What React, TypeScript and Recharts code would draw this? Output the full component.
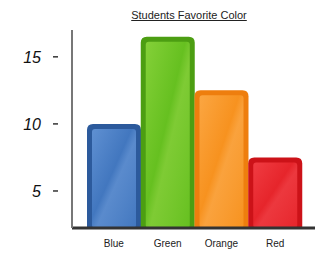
import { BarChart, Bar, XAxis, YAxis } from "recharts";

const categories = ["Blue", "Green", "Orange", "Red"];
const votes = [10, 16.5, 12.5, 7.5];
const yTicks = [5, 10, 15];

// edge, light, mid per bar
const EDGE = ["#2c5a9c", "#4c9e12", "#ee7e0e", "#cc1218"];
const LIGHT = ["#5f90d2", "#84d038", "#fba642", "#f03c42"];
const MID = ["#4277bf", "#66c020", "#f7921f", "#e6252b"];

const data = categories.map((name, i) => ({ name, votes: votes[i] }));

const FONT = "'Liberation Sans', Arial, sans-serif";

function GlossyBar(props: any) {
    const { x, y, width, height, index } = props;
    const r = 6;
    const outer = `M${x},${y + height} L${x},${y + r} Q${x},${y} ${x + r},${y} L${x + width - r},${y} Q${x + width},${y} ${x + width},${y + r} L${x + width},${y + height} Z`;
    const inset = 5;
    return (
        <g>
            <defs>
                <linearGradient id={`g${index}`} x1="0" y1="0" x2="1" y2="1">
                    <stop offset="0%" stopColor={LIGHT[index]} />
                    <stop offset="45%" stopColor={MID[index]} />
                    <stop offset="55%" stopColor={LIGHT[index]} stopOpacity={0.9} />
                    <stop offset="100%" stopColor={MID[index]} />
                </linearGradient>
            </defs>
            <path d={outer} fill={EDGE[index]} />
            <rect
                x={x + inset}
                y={y + inset}
                width={width - inset * 2}
                height={Math.max(0, height - inset)}
                rx={3}
                fill={`url(#g${index})`}
            />
        </g>
    );
}

function YTick(props: any) {
    const { x, y, payload } = props;
    return (
        <g>
            <text
                x={x - 23}
                y={y}
                dy={6}
                textAnchor="end"
                fontFamily={FONT}
                fontStyle="italic"
                fontSize={16}
                fill="#111"
            >
                {payload.value}
            </text>
            <line x1={x - 11} x2={x - 6} y1={y} y2={y} stroke="#333" strokeWidth={1.5} />
        </g>
    );
}

export default function App() {
    return (
        <div style={{ position: "absolute", left: 0, top: 0, width: 319, height: 254, background: "#fff" }}>
            <div
                style={{
                    position: "absolute",
                    left: 120,
                    top: 9,
                    width: 138,
                    textAlign: "center",
                    fontFamily: FONT,
                    fontSize: 11,
                    color: "#222",
                    textDecoration: "underline",
                    whiteSpace: "nowrap",
                }}
            >
                Students Favorite Color
            </div>
            <BarChart
                width={319}
                height={254}
                data={data}
                barCategoryGap={0}
                margin={{ top: 30, right: 4, bottom: 0, left: 0 }}
            >
                <XAxis
                    dataKey="name"
                    height={26}
                    padding={{ left: 15, right: 13 }}
                    axisLine={{ stroke: "#333", strokeWidth: 3 }}
                    tickLine={false}
                    tick={{ fontFamily: FONT, fontSize: 10, fill: "#222" }}
                    tickMargin={6}
                />
                <YAxis
                    width={72}
                    domain={[2.24, 17]}
                    ticks={yTicks}
                    allowDataOverflow
                    axisLine={{ stroke: "#777", strokeWidth: 2 }}
                    tickLine={false}
                    tick={<YTick />}
                />
                <Bar dataKey="votes" shape={<GlossyBar />} isAnimationActive={false} />
            </BarChart>
        </div>
    );
}
